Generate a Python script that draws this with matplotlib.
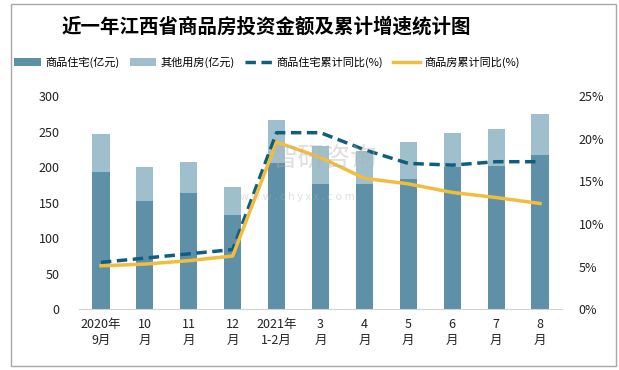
import matplotlib.pyplot as plt
from matplotlib.patches import Rectangle
from matplotlib.ticker import FuncFormatter

plt.rcParams['font.family'] = ['Noto Sans CJK SC', 'DejaVu Sans']

months = ['2020年\n9月', '10\n月', '11\n月', '12\n月', '2021年\n1-2月',
          '3\n月', '4\n月', '5\n月', '6\n月', '7\n月', '8\n月']
residential = [193, 152.5, 164, 133, 206, 176.5, 176, 183.5, 199.5, 202, 217]
other = [54, 48, 43.5, 39, 60.5, 53.5, 47, 52, 48.5, 52, 57]
res_yoy = [5.5, 6.0, 6.5, 7.0, 20.7, 20.7, 18.7, 17.1, 16.9, 17.3, 17.3]
all_yoy = [5.1, 5.3, 5.7, 6.25, 19.6, 17.8, 15.35, 14.7, 13.7, 13.1, 12.4]

c_res = '#5e90a8'
c_other = '#a0bfcc'
c_dash = '#0f5e80'
c_yellow = '#f2bd3e'

fig = plt.figure(figsize=(6.19, 3.70), dpi=100)
fig.patches.append(Rectangle((11 / 619, 1 - 366 / 370), 605 / 619, 362 / 370,
                             transform=fig.transFigure, fill=False,
                             ec='#a8a8a8', lw=1))

ax = fig.add_axes([79 / 619, 1 - 309.3 / 370, 483 / 619, 213.3 / 370])
x = list(range(len(months)))
b1 = ax.bar(x, residential, width=0.39, color=c_res, label='商品住宅(亿元)')
b2 = ax.bar(x, other, width=0.39, bottom=residential, color=c_other,
            label='其他用房(亿元)')
ax.set_xlim(-0.5, len(months) - 0.5)
ax.set_ylim(0, 300)
ax.set_yticks(range(0, 301, 50))
ax.set_xticks(x)
ax.set_xticklabels(months, fontsize=9, linespacing=1.3)
ax.tick_params(axis='both', length=0, labelsize=9, colors='#222222')
ax.tick_params(axis='y', pad=14)
ax.tick_params(axis='x', pad=6)
for s in ['top', 'right', 'left']:
    ax.spines[s].set_visible(False)
ax.spines['bottom'].set_color('#d0d0d0')

ax2 = ax.twinx()
l1, = ax2.plot(x, res_yoy, color=c_dash, lw=2.5, ls=(0, (3, 1.6)),
               label='商品住宅累计同比(%)')
l2, = ax2.plot(x, all_yoy, color=c_yellow, lw=2.5, label='商品房累计同比(%)')
ax2.set_ylim(0, 25)
ax2.set_yticks(range(0, 26, 5))
ax2.yaxis.set_major_formatter(FuncFormatter(lambda v, p: f'{v:.0f}%'))
ax2.tick_params(axis='y', length=0, labelsize=9, colors='#222222', pad=12)
for s in ['top', 'right', 'left', 'bottom']:
    ax2.spines[s].set_visible(False)

fig.text(266 / 619, 1 - 27 / 370, '近一年江西省商品房投资金额及累计增速统计图',
         ha='center', va='center', fontsize=14, fontweight='bold')

fig.legend(handles=[b1, b2, l1, l2], loc='center',
           bbox_to_anchor=(267 / 619, 1 - 62 / 370), ncol=4, frameon=False,
           fontsize=8, handlelength=2.4, handletextpad=0.4,
           columnspacing=0.9)

# watermark
fig.text(272 / 619, 1 - 158 / 370, '智研咨询', fontsize=19, color='#b0b0b0',
         alpha=0.4, ha='left', va='center', zorder=10)
fig.text(240 / 619, 1 - 197 / 370, 'w w w . c h y x x . c o m', fontsize=8,
         color='#b0b0b0', alpha=0.4, ha='left', va='center', zorder=10)

fig.savefig('out.png', dpi=100)
